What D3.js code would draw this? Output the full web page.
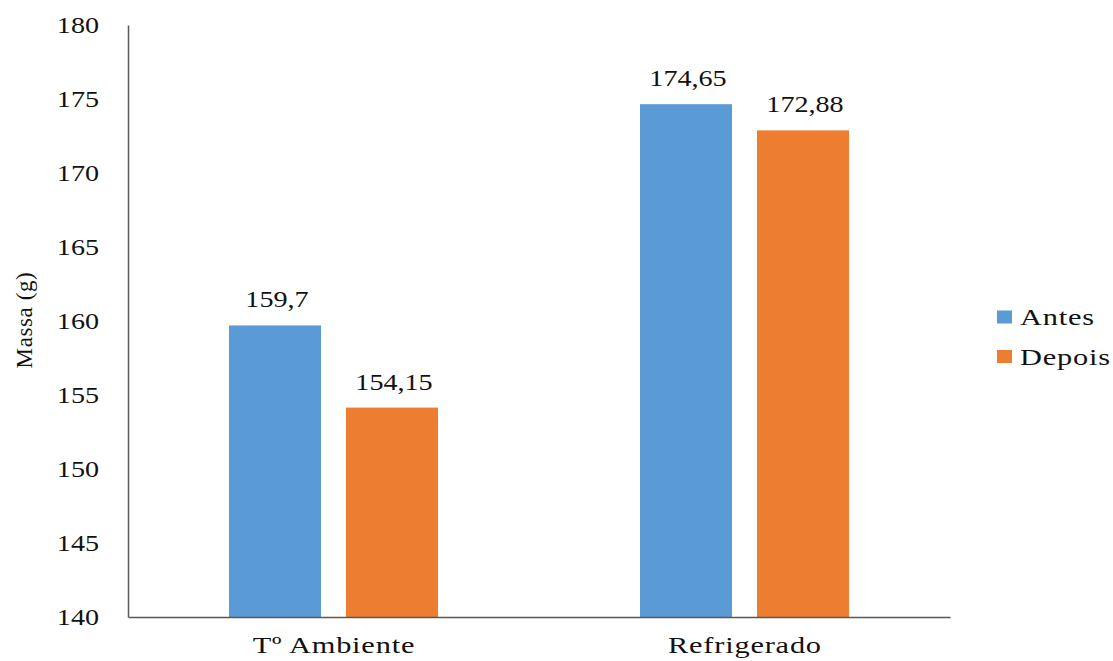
<!DOCTYPE html>
<html>
<head>
<meta charset="utf-8">
<script src="https://cdn.jsdelivr.net/npm/d3@7"></script>
<style>
  html, body { margin: 0; padding: 0; background: #fff; }
  text { font-family: "Liberation Serif", "Times New Roman", serif; fill: #111; }
</style>
</head>
<body>
<svg id="chart" width="1113" height="661"></svg>
<script>
// Mass of samples before and after storage, by storage condition
const categories = ["T\u00BA Ambiente", "Refrigerado"];
const seriesNames = ["Antes", "Depois"];
const antes = [159.7, 174.65];
const depois = [154.15, 172.88];
const valueLabels = [["159,7", "174,65"], ["154,15", "172,88"]];
const yTicks = [140, 145, 150, 155, 160, 165, 170, 175, 180];
const colors = ["#5B9BD5", "#ED7D31"];

const seriesValues = [antes, depois];
const plot = { left: 128, right: 950, top: 25, bottom: 617 };
const fontSize = 22.5;
const stretch = 1.25;      // wide glyph rendering for numbers
const wordStretch = 1.35;  // wide glyph rendering for word labels
const wordSpacing = 0.6;   // extra letter spacing for word labels

const svg = d3.select("#chart");

const y = d3.scaleLinear().domain([140, 180]).range([plot.bottom, plot.top]);
const x0 = d3.scaleBand().domain(categories).range([plot.left, plot.right]).padding(0);
const x1 = d3.scaleBand().domain(seriesNames).range([0, x0.bandwidth()])
  .paddingInner(0.2137).paddingOuter(0.863);

// place a horizontally widened text at (tx, ty)
function wideText(g, str, tx, ty, anchor, k, spacing) {
  const t = g.append("text")
    .attr("transform", `translate(${tx},${ty}) scale(${k},1)`)
    .attr("text-anchor", anchor)
    .style("font-size", fontSize + "px")
    .text(str);
  if (spacing) {
    t.style("letter-spacing", spacing + "px");
    if (anchor === "middle") t.attr("x", spacing / 2);
  }
  return t;
}

// bars
const rows = [];
categories.forEach((c, ci) => {
  seriesNames.forEach((s, si) => {
    rows.push({ cat: c, series: s, si, ci, value: seriesValues[si][ci], label: valueLabels[si][ci] });
  });
});

const barG = svg.append("g");
barG.selectAll("rect").data(rows).join("rect")
  .attr("x", d => x0(d.cat) + x1(d.series))
  .attr("y", d => y(d.value))
  .attr("width", x1.bandwidth())
  .attr("height", d => y(140) - y(d.value))
  .attr("fill", d => colors[d.si]);

// value labels
const lblG = svg.append("g");
rows.forEach(d => {
  wideText(lblG, d.label, x0(d.cat) + x1(d.series) + x1.bandwidth() / 2 + 2, y(d.value) - 18, "middle", stretch);
});

// y axis
const yAxis = svg.append("g")
  .attr("transform", `translate(${plot.left},0)`)
  .call(d3.axisLeft(y).tickValues(yTicks).tickSize(0).tickFormat(d3.format("d")));
yAxis.select(".domain").attr("stroke", "#595959").attr("stroke-width", 1.5);
yAxis.selectAll(".tick text").each(function() {
  d3.select(this)
   .attr("x", null).attr("dy", null)
   .attr("transform", `translate(-29,${fontSize * 0.34}) scale(${stretch},1)`)
   .attr("text-anchor", "end")
   .style("font-size", fontSize + "px")
   .style("font-family", "'Liberation Serif', serif")
   .attr("fill", "#111");
});

// x axis
const xAxis = svg.append("g")
  .attr("transform", `translate(0,${plot.bottom})`)
  .call(d3.axisBottom(x0).tickSize(0).tickSizeOuter(0).tickFormat(() => ""));
xAxis.select(".domain").attr("stroke", "#595959").attr("stroke-width", 1.5);
categories.forEach(c => {
  wideText(svg, c, x0(c) + x0.bandwidth() / 2, 653, "middle", wordStretch, wordSpacing);
});

// y axis title
svg.append("text")
  .attr("transform", `translate(32,320) rotate(-90)`)
  .attr("text-anchor", "middle")
  .style("font-size", "23px")
  .style("letter-spacing", "0.6px")
  .text("Massa (g)");

// legend
const legend = svg.append("g");
seriesNames.forEach((s, i) => {
  const cy = 317 + i * 39.5;
  legend.append("rect")
    .attr("x", 997).attr("y", cy - 6.5)
    .attr("width", 15).attr("height", 13)
    .attr("fill", colors[i]);
  wideText(legend, s, 1020, cy + 8, "start", wordStretch, wordSpacing);
});
</script>
</body>
</html>
